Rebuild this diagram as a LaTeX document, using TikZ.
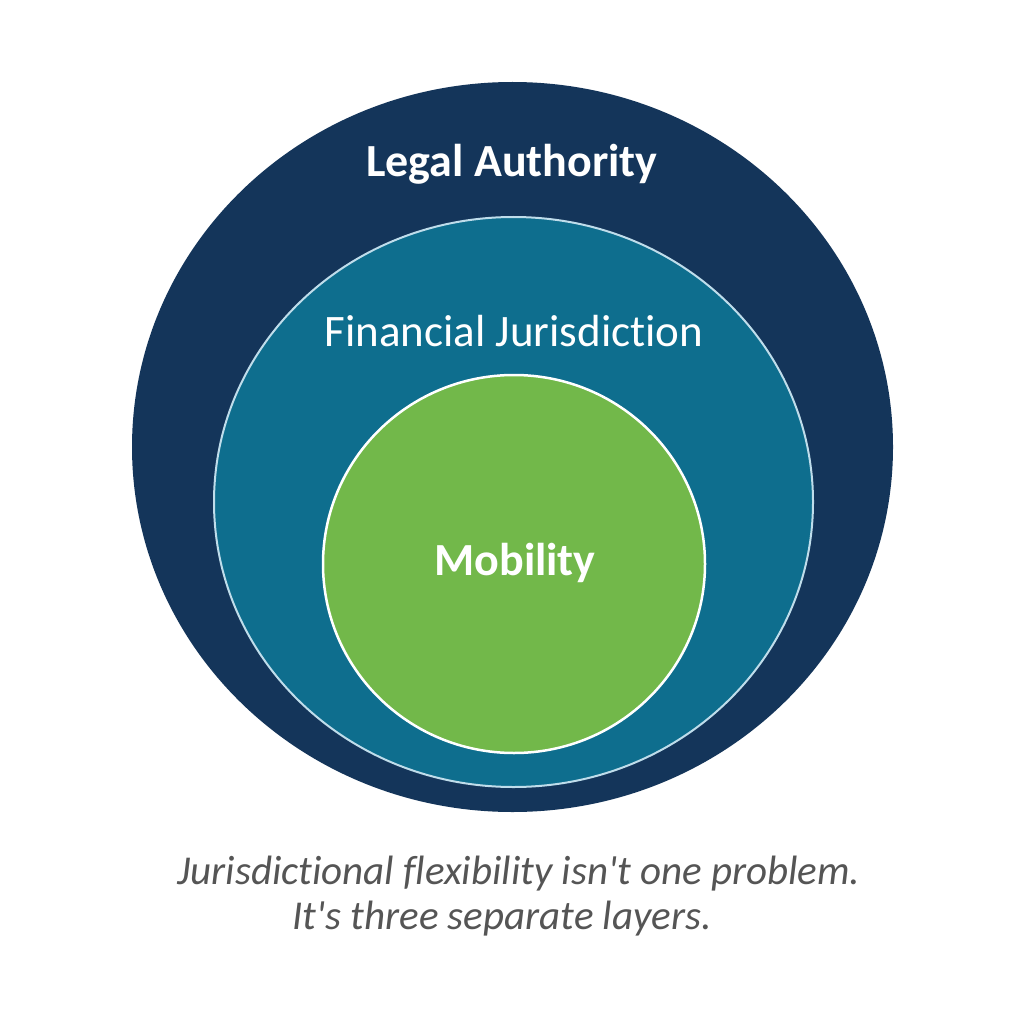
\documentclass[tikz,border=0pt]{standalone}
\usepackage{fontspec}
\setmainfont[Ligatures=NoCommon]{Carlito}
\definecolor{navy}{HTML}{14355A}
\definecolor{teal}{HTML}{0E6E8E}
\definecolor{leaf}{HTML}{72B84A}
\definecolor{ringline}{HTML}{BFDDEB}
\definecolor{captiongray}{HTML}{555555}
\begin{document}
\begin{tikzpicture}[x=1pt,y=-1pt,
  lbl/.style={text=white,font=\fontsize{45}{50}\selectfont,inner sep=0pt},
  lblbold/.style={lbl,font=\bfseries\fontsize{46}{50}\selectfont},
  captxt/.style={text=captiongray,font=\itshape\fontsize{41}{46}\selectfont,inner sep=0pt}]
\useasboundingbox[fill=white] (0,0) rectangle (1024,1024);
\fill[navy] (512.5,447) ellipse [x radius=380.5, y radius=365];
\filldraw[fill=teal,draw=ringline,line width=2pt] (513.5,502) ellipse [x radius=299.5, y radius=285];
\filldraw[fill=leaf,draw=white,line width=2.5pt] (514,564) ellipse [x radius=191, y radius=189];
\node[lblbold] (legal) at (512,164) {Legal Authority};
\node[lbl] (fin) at (514,331) {Financial Jurisdiction};
\node[lblbold] (mob) at (515,563) {Mobility};
\node[captxt] (c1) at (519,874) {Jurisdictional flexibility isn\textquotesingle t one problem.};
\node[captxt] (c2) at (502,919) {It\textquotesingle s three separate layers.};
\end{tikzpicture}
\end{document}
